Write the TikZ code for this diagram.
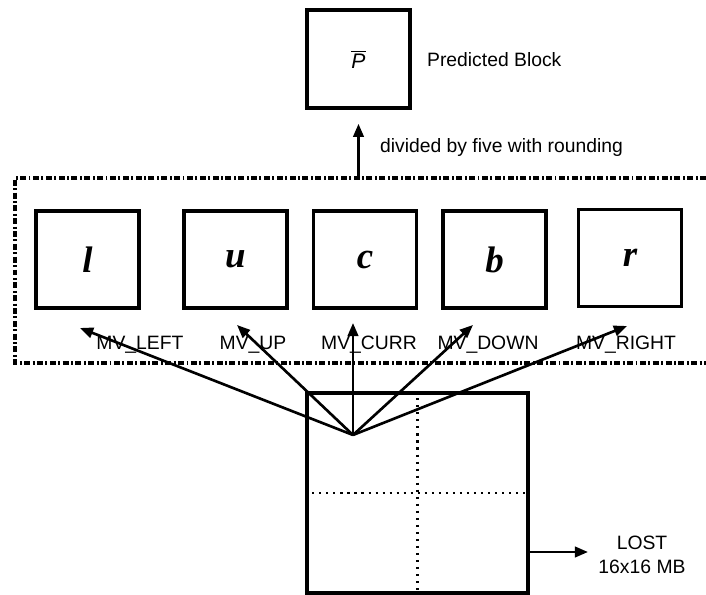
\documentclass[tikz,border=0pt]{standalone}
\usepackage{fontspec}
\setmainfont{Liberation Sans}
\newfontfamily\timesbi{Liberation Serif}
\usetikzlibrary{arrows.meta,positioning}

\begin{document}
\begin{tikzpicture}[
  blk/.style={draw,line width=2pt,minimum width=2.06cm,minimum height=1.94cm,inner sep=0pt,
    font=\timesbi\bfseries\itshape\fontsize{21}{21}\selectfont},
  lbl/.style={font=\fontsize{11}{14}\selectfont,inner sep=1pt},
  mv/.style={-{Triangle[length=7.5pt,width=6pt]},line width=1.5pt},
  frame/.style={line width=1.8pt,dash pattern=on 3.4pt off 1.4pt on 1.1pt off 1.4pt},
  grid/.style={line width=1.6pt,dash pattern=on 1.2pt off 2.8pt}
]
\useasboundingbox (0,0) rectangle (14.12,-11.9);

% averaged block on top
\node[blk,minimum height=1.96cm,font=\fontsize{12}{12}\selectfont] (pred) at (7.17,-1.18) {$\overline{\textit{P}}$};
\node[lbl,anchor=west] (predtxt) at (8.5,-1.2) {Predicted Block};

% dash-dot frame round the five candidates
\draw[frame] (14.12,-3.56) -- (0.3,-3.56) -- (0.3,-7.26) -- (14.12,-7.26);
\coordinate (avg) at (pred.south |- 0,-3.56);
\draw[mv,shorten >=8pt] (avg) -- (pred.south);
\node[lbl,anchor=west] (divtxt) at (7.56,-2.96) {divided by five with rounding};

% candidate blocks
\foreach \n/\x/\y in {l/1.75/-5.19,u/4.71/-5.19,c/7.3/-5.19,b/9.89/-5.19,r/12.6/-5.16}{
  \node[blk] (\n) at (\x,\y) {\n};
}
\foreach \n/\x/\t in {l/2.8/LEFT,u/5.06/UP,c/7.38/CURR,b/9.76/DOWN,r/12.52/RIGHT}{
  \node[lbl] (mv-\n) at (\x,-6.9) {MV\_\t};
}

% lost macroblock with its 8x8 split
\node[draw,line width=2pt,minimum width=4.42cm,minimum height=4cm,inner sep=0pt] (mb) at (8.35,-9.86) {};
\draw[grid] (mb.north) -- (mb.south);
\draw[grid] (mb.west) -- (mb.east);

% motion vectors
\coordinate (src) at (7.06,-8.7);
\coordinate (tip-l) at (1.6,-6.56);
\coordinate (tip-u) at (4.74,-6.5);
\coordinate (tip-c) at (7.06,-6.46);
\coordinate (tip-b) at (9.46,-6.5);
\coordinate (tip-r) at (12.54,-6.52);
\foreach \n in {l,u,c,b,r}{
  \draw[mv] (src) -- (tip-\n);
}

\node[lbl,align=center] (lost) at (12.84,-11.1) {LOST\\16x16 MB};
\coordinate (lost-in) at (11.76,-11.04);
\draw[mv] (mb.east |- lost-in) -- (lost-in);
\end{tikzpicture}
\end{document}
